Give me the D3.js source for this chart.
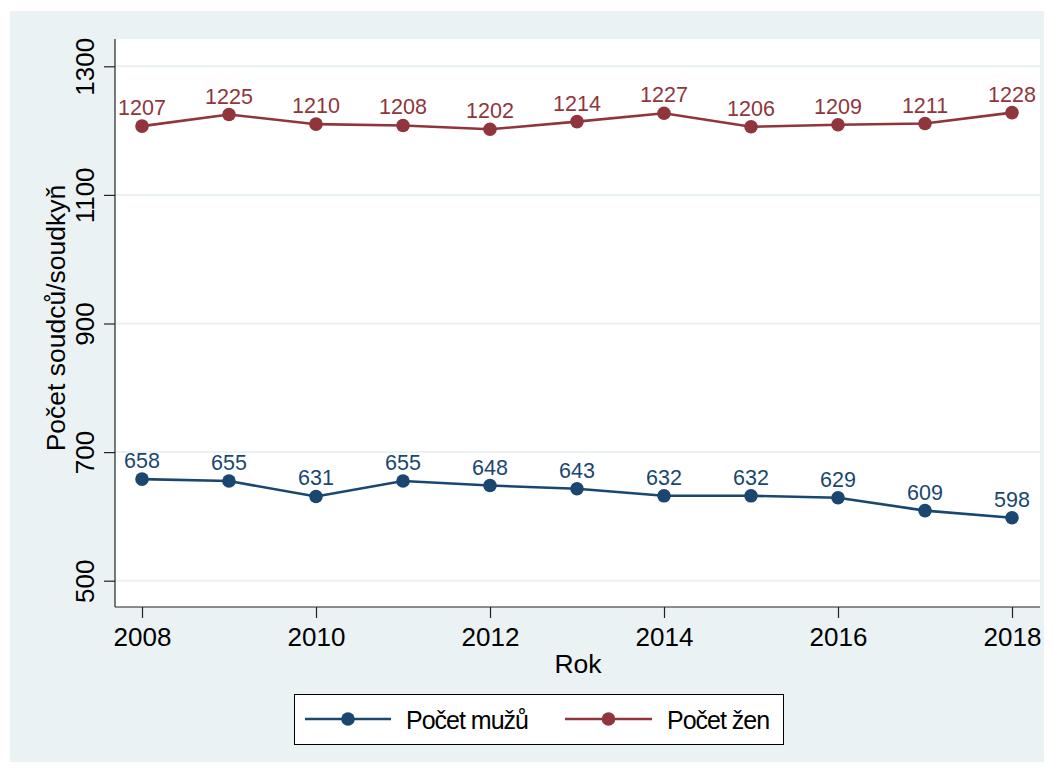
<!DOCTYPE html>
<html>
<head>
<meta charset="utf-8">
<script src="https://cdn.jsdelivr.net/npm/d3@7"></script>
<style>
  html, body { margin: 0; padding: 0; background: #ffffff; }
  svg { display: block; font-family: Arial, "Liberation Sans", Helvetica, sans-serif; }
</style>
</head>
<body>
<svg id="chart" width="1054" height="772"></svg>
<script>
const years = [2008, 2009, 2010, 2011, 2012, 2013, 2014, 2015, 2016, 2017, 2018];
const men = [658, 655, 631, 655, 648, 643, 632, 632, 629, 609, 598];
const women = [1207, 1225, 1210, 1208, 1202, 1214, 1227, 1206, 1209, 1211, 1228];
const yTicks = [500, 700, 900, 1100, 1300];
const xTicks = [2008, 2010, 2012, 2014, 2016, 2018];

const blue = "#1a476f";
const red = "#90353b";
const bg = "#eaf2f3";

const svg = d3.select("#chart");
const plot = { left: 115, right: 1040, top: 39, bottom: 607 };

// outer panel
svg.append("rect").attr("x", 10).attr("y", 11).attr("width", 1034).attr("height", 751).attr("fill", bg);
svg.append("rect")
  .attr("x", plot.left).attr("y", plot.top)
  .attr("width", plot.right - plot.left).attr("height", plot.bottom - plot.top)
  .attr("fill", "#ffffff");

const x = d3.scaleLinear().domain([2008, 2018]).range([142, 1012]);
const y = d3.scaleLinear().domain([500, 1300]).range([580.7, 66.3]);

// gridlines
svg.append("g")
  .selectAll("line")
  .data(yTicks)
  .join("line")
  .attr("x1", plot.left).attr("x2", plot.right)
  .attr("y1", (d) => y(d)).attr("y2", (d) => y(d))
  .attr("stroke", bg).attr("stroke-width", 2);

// y axis
const yAxis = svg.append("g")
  .attr("transform", `translate(${plot.left},0)`)
  .call(d3.axisLeft(y).tickValues(yTicks).tickFormat(d3.format("d")).tickSize(11).tickPadding(11).tickSizeOuter(0));
yAxis.select(".domain").attr("d", `M0,${plot.top}V${plot.bottom}`).attr("stroke", "#222").attr("stroke-width", 1.2);
yAxis.selectAll(".tick line").attr("stroke", "#222").attr("stroke-width", 1.2);
yAxis.selectAll(".tick text")
  .attr("font-size", 26).attr("fill", "#000")
  .attr("text-anchor", "middle")
  .attr("x", null).attr("dy", null)
  .attr("transform", "translate(-21,0) rotate(-90)");

// x axis
const xAxis = svg.append("g")
  .attr("transform", `translate(0,${plot.bottom})`)
  .call(d3.axisBottom(x).tickValues(xTicks).tickFormat(d3.format("d")).tickSize(11).tickPadding(10).tickSizeOuter(0));
xAxis.select(".domain").attr("d", `M${plot.left},0H${plot.right}`).attr("stroke", "#222").attr("stroke-width", 1.2);
xAxis.selectAll(".tick line").attr("stroke", "#222").attr("stroke-width", 1.2);
xAxis.selectAll(".tick text").attr("font-size", 26).attr("fill", "#000");

// axis titles
svg.append("text")
  .attr("transform", `translate(65,318) rotate(-90)`)
  .attr("text-anchor", "middle")
  .attr("font-size", 26.5)
  .text("Počet soudců/soudkyň");

svg.append("text")
  .attr("x", 578)
  .attr("y", 673)
  .attr("text-anchor", "middle")
  .attr("font-size", 26.5)
  .text("Rok");

// series
const series = [
  { label: "Počet mužů", values: men, color: blue },
  { label: "Počet žen", values: women, color: red },
];

const line = d3.line().x((d, i) => x(years[i])).y((d) => y(d));

series.forEach((s) => {
  const g = svg.append("g");
  g.append("path")
    .attr("d", line(s.values))
    .attr("fill", "none")
    .attr("stroke", s.color)
    .attr("stroke-width", 2.6);
  g.selectAll("circle")
    .data(s.values)
    .join("circle")
    .attr("cx", (d, i) => x(years[i]))
    .attr("cy", (d) => y(d))
    .attr("r", 6.8)
    .attr("fill", s.color);
  g.selectAll("text")
    .data(s.values)
    .join("text")
    .attr("x", (d, i) => x(years[i]))
    .attr("y", (d) => y(d) - 11)
    .attr("text-anchor", "middle")
    .attr("font-size", 21.5)
    .attr("fill", s.color)
    .text((d) => d);
});

// legend
const legend = svg.append("g");
legend.append("rect")
  .attr("x", 294.5).attr("y", 694.5).attr("width", 489).attr("height", 50)
  .attr("fill", "#fff").attr("stroke", "#000").attr("stroke-width", 1);
const legendItems = [
  { s: series[0], x0: 305, x1: 391, tx: 406 },
  { s: series[1], x0: 565, x1: 652, tx: 667 },
];
legendItems.forEach((item) => {
  legend.append("line")
    .attr("x1", item.x0).attr("x2", item.x1).attr("y1", 719).attr("y2", 719)
    .attr("stroke", item.s.color).attr("stroke-width", 2.6);
  legend.append("circle")
    .attr("cx", (item.x0 + item.x1) / 2).attr("cy", 719).attr("r", 6.8)
    .attr("fill", item.s.color);
  legend.append("text")
    .attr("x", item.tx).attr("y", 729)
    .attr("font-size", 25)
    .attr("letter-spacing", -1)
    .text(item.s.label);
});
</script>
</body>
</html>
